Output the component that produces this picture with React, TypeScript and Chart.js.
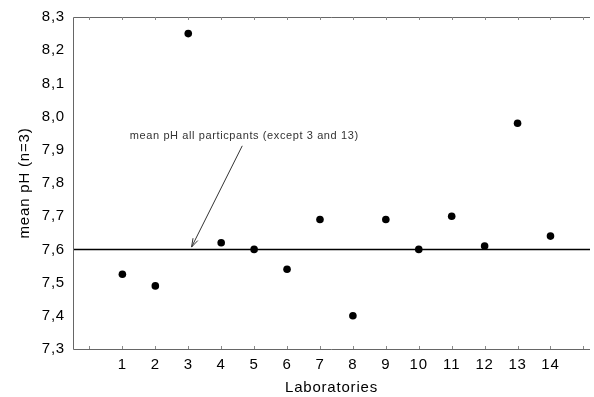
import React, { useEffect, useRef } from 'react';
import { Chart, registerables } from 'chart.js';

Chart.register(...registerables);

const laboratories = [1, 2, 3, 4, 5, 6, 7, 8, 9, 10, 11, 12, 13, 14];
const meanPH = [7.525, 7.49, 8.25, 7.62, 7.6, 7.54, 7.69, 7.4, 7.69, 7.6, 7.7, 7.61, 7.98, 7.64];
const overallMean = 7.6;
const yTicks = [7.3, 7.4, 7.5, 7.6, 7.7, 7.8, 7.9, 8.0, 8.1, 8.2, 8.3];
const xTicks = [0, 1, 2, 3, 4, 5, 6, 7, 8, 9, 10, 11, 12, 13, 14, 15];
const xMin = -0.5;
const xMax = 15.2;
const yMin = 7.3;
const yMax = 8.3;
const annotationText = 'mean pH all particpants (except 3 and 13)';
const annotationLabel = { x: 4.7, y: 7.943 };
const arrowFrom = { x: 4.64, y: 7.912 };
const arrowTo = { x: 3.1, y: 7.607 };

const FONT = 'Arial, "Liberation Sans", sans-serif';

const framePlugin = {
  id: 'frame',
  beforeDraw(chart: any) {
    chart.ctx.letterSpacing = '0.8px';
  },
  afterDraw(chart: any) {
    const { ctx, chartArea } = chart;
    const xs = chart.scales.x;
    const ys = chart.scales.y;
    ctx.save();
    ctx.letterSpacing = '0px';
    // axes
    ctx.strokeStyle = '#666';
    ctx.lineWidth = 1;
    ctx.beginPath();
    ctx.moveTo(chartArea.left + 0.5, chartArea.top + 0.5);
    ctx.lineTo(chartArea.left + 0.5, chartArea.bottom + 0.5);
    ctx.lineTo(chartArea.right, chartArea.bottom + 0.5);
    ctx.moveTo(chartArea.left + 0.5, chartArea.top + 0.5);
    ctx.lineTo(chartArea.right, chartArea.top + 0.5);
    ctx.stroke();
    // inward x ticks top and bottom
    ctx.strokeStyle = '#888';
    ctx.beginPath();
    xTicks.forEach((v) => {
      const px = Math.round(xs.getPixelForValue(v)) + 0.5;
      ctx.moveTo(px, chartArea.top);
      ctx.lineTo(px, chartArea.top + 3);
      ctx.moveTo(px, chartArea.bottom);
      ctx.lineTo(px, chartArea.bottom - 3);
    });
    ctx.stroke();
    // annotation
    ctx.letterSpacing = '0.6px';
    ctx.fillStyle = '#333';
    ctx.font = '11px ' + FONT;
    ctx.textAlign = 'center';
    ctx.textBaseline = 'middle';
    ctx.fillText(annotationText, xs.getPixelForValue(annotationLabel.x), ys.getPixelForValue(annotationLabel.y));
    const x1 = xs.getPixelForValue(arrowFrom.x);
    const y1 = ys.getPixelForValue(arrowFrom.y);
    const x2 = xs.getPixelForValue(arrowTo.x);
    const y2 = ys.getPixelForValue(arrowTo.y);
    ctx.strokeStyle = '#333';
    ctx.lineWidth = 1;
    ctx.beginPath();
    ctx.moveTo(x1, y1);
    ctx.lineTo(x2, y2);
    const ang = Math.atan2(y2 - y1, x2 - x1);
    const hl = 9;
    const spread = 0.3;
    ctx.moveTo(x2, y2);
    ctx.lineTo(x2 - hl * Math.cos(ang - spread), y2 - hl * Math.sin(ang - spread));
    ctx.moveTo(x2, y2);
    ctx.lineTo(x2 - hl * Math.cos(ang + spread), y2 - hl * Math.sin(ang + spread));
    ctx.stroke();
    ctx.restore();
    ctx.letterSpacing = '0px';
  },
};

export default function App() {
  const ref = useRef<HTMLCanvasElement | null>(null);
  useEffect(() => {
    document.body.style.margin = '0';
    const canvas = ref.current;
    if (!canvas) return;
    const chart = new Chart(canvas, {
      type: 'scatter',
      data: {
        datasets: [
          {
            label: 'mean line',
            data: [
              { x: xMin, y: overallMean },
              { x: xMax, y: overallMean },
            ],
            showLine: true,
            borderColor: '#000',
            borderWidth: 1.5,
            pointRadius: 0,
          },
          {
            label: 'mean pH',
            data: laboratories.map((l, i) => ({ x: l, y: meanPH[i] })),
            backgroundColor: '#000',
            borderColor: '#000',
            borderWidth: 0,
            pointRadius: 3.8,
          },
        ],
      },
      options: {
        animation: false,
        responsive: false,
        devicePixelRatio: 1,
        layout: { padding: { top: 17, right: 0, left: 0, bottom: 0 } },
        plugins: { legend: { display: false }, tooltip: { enabled: false } },
        scales: {
          x: {
            type: 'linear',
            min: xMin,
            max: xMax,
            grid: { display: false, drawTicks: false },
            border: { display: false },
            afterBuildTicks: (s: any) => {
              s.ticks = xTicks.map((v) => ({ value: v }));
            },
            afterFit: (s: any) => {
              s.height = 48;
            },
            ticks: {
              autoSkip: false,
              maxRotation: 0,
              padding: 7,
              color: '#000',
              font: { family: FONT, size: 15 },
              callback: (v: any) => (v >= 1 && v <= 14 ? String(v) : ''),
            },
            title: {
              display: true,
              text: 'Laboratories',
              color: '#000',
              font: { family: FONT, size: 15 },
              padding: { top: 0, bottom: 0 },
            },
          },
          y: {
            type: 'linear',
            min: yMin,
            max: yMax,
            grid: { display: false, drawTicks: false },
            border: { display: false },
            afterBuildTicks: (s: any) => {
              s.ticks = yTicks.map((v) => ({ value: v }));
            },
            afterFit: (s: any) => {
              s.width = 73;
            },
            ticks: {
              padding: 8,
              color: '#000',
              font: { family: FONT, size: 15 },
              callback: (v: any) => Number(v).toFixed(1).replace('.', ','),
            },
            title: {
              display: true,
              text: 'mean pH (n=3)',
              color: '#000',
              font: { family: FONT, size: 15 },
              padding: { top: 16, bottom: 0 },
            },
          },
        },
      },
      plugins: [framePlugin],
    });
    return () => chart.destroy();
  }, []);
  return (
    <div style={{ width: 594, height: 397 }}>
      <canvas ref={ref} width={594} height={397} style={{ display: 'block' }} />
    </div>
  );
}
